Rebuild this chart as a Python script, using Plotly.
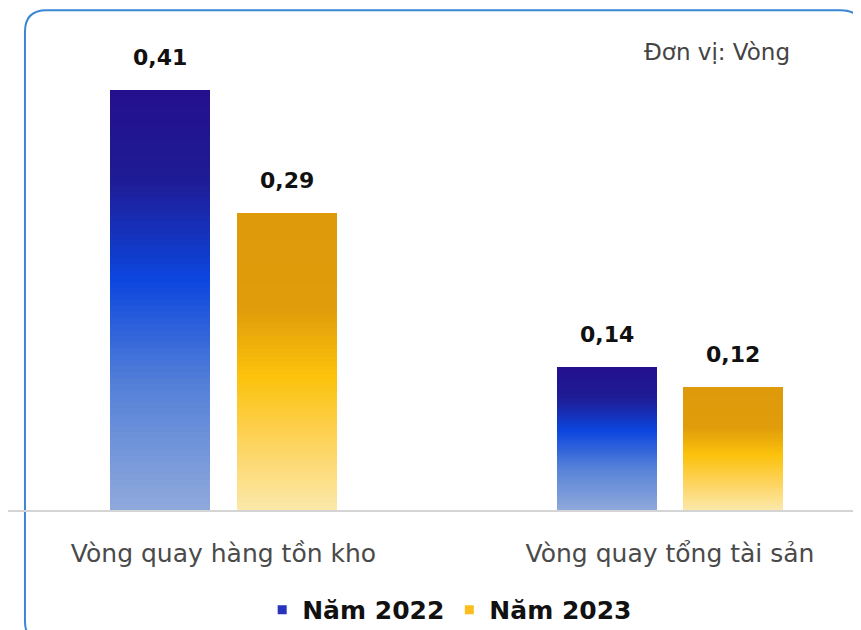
import plotly.graph_objects as go

# data
categories = ["Vòng quay hàng tồn kho", "Vòng quay tổng tài sản"]
series_names = ["Năm 2022", "Năm 2023"]
values_2022 = [0.41, 0.14]
values_2023 = [0.29, 0.12]
value_labels_2022 = ["0,41", "0,14"]
value_labels_2023 = ["0,29", "0,12"]
unit_label = "Đơn vị: Vòng"

FONT = "DejaVu Sans"
N_SEG = 70  # slices per bar, used to fake a vertical gradient

# gradient stops, fraction of bar height from the bottom
blue_stops = [(0.0, (143, 169, 219)), (0.3, (84, 128, 216)), (0.55, (12, 70, 222)),
              (0.78, (30, 28, 150)), (1.0, (36, 16, 142))]
gold_stops = [(0.0, (251, 232, 170)), (0.22, (253, 212, 95)), (0.45, (252, 194, 12)),
              (0.68, (224, 156, 10)), (1.0, (223, 154, 12))]


def lerp_color(stops, t):
    for (t0, c0), (t1, c1) in zip(stops[:-1], stops[1:]):
        if t0 <= t <= t1:
            f = (t - t0) / (t1 - t0) if t1 > t0 else 0
            c = [round(a + (b - a) * f) for a, b in zip(c0, c1)]
            return f"rgb({c[0]},{c[1]},{c[2]})"
    c = stops[-1][1]
    return f"rgb({c[0]},{c[1]},{c[2]})"


BAR_W = 0.224
offsets = [-0.254, 0.030]
series = [(values_2022, blue_stops, value_labels_2022, "rgb(40,50,190)"),
          (values_2023, gold_stops, value_labels_2023, "rgb(250,190,30)")]

fig = go.Figure()
for s, (vals, stops, labels, legend_col) in enumerate(series):
    for i in range(N_SEG):
        t = (i + 0.5) / N_SEG
        fig.add_trace(go.Bar(
            x=categories,
            y=[v / N_SEG * 1.02 for v in vals],
            base=[v * i / N_SEG for v in vals],
            offset=offsets[s],
            width=BAR_W,
            marker=dict(color=lerp_color(stops, t), line=dict(width=0)),
            showlegend=False,
            hoverinfo="skip",
        ))
    # legend entry only (small square symbol)
    fig.add_trace(go.Scatter(
        x=[categories[0]], y=[None], mode="markers", name=f"<b>{series_names[s]}</b>",
        marker=dict(color=legend_col, symbol="square", size=9),
        showlegend=True,
    ))
    for k, v in enumerate(vals):
        fig.add_annotation(
            x=k + offsets[s] + BAR_W / 2, y=v, text=f"<b>{labels[k]}</b>",
            showarrow=False, yanchor="bottom", yshift=18,
            font=dict(family=FONT, size=22, color="#111111"),
        )

fig.add_annotation(
    xref="paper", yref="paper", x=0.910, y=0.931, text=unit_label,
    showarrow=False, xanchor="right", yanchor="middle",
    font=dict(family=FONT, size=23, color="#444444"),
)

# rounded frame (page body adds an 8px offset, so coords are shifted)
x0, x1, y0, y1, r = 0.0197, 0.992, 1.016, -0.27, 0.025
ry = r * 861 / 492
frame = (f"M {x0+r},{y0} L {x1-r},{y0} Q {x1},{y0} {x1},{y0-ry} "
         f"L {x1},{y1+ry} Q {x1},{y1} {x1-r},{y1} L {x0+r},{y1} "
         f"Q {x0},{y1} {x0},{y1+ry} L {x0},{y0-ry} Q {x0},{y0} {x0+r},{y0} Z")
fig.add_shape(type="path", xref="paper", yref="paper", path=frame,
              line=dict(color="#3a86d4", width=2), layer="below")

fig.update_layout(
    width=861, height=630,
    barmode="overlay",
    bargap=0,
    plot_bgcolor="white", paper_bgcolor="white",
    margin=dict(l=0, r=0, t=10, b=128),
    font=dict(family=FONT),
    legend=dict(orientation="h", x=0.513, xanchor="center", y=-0.203, yanchor="middle",
                font=dict(family=FONT, size=25, color="#111111"),
                itemwidth=30, traceorder="normal"),
    showlegend=True,
)
fig.update_xaxes(
    type="category", range=[-0.4826, 1.4457],
    showline=True, linecolor="#d4d4d4", linewidth=1.5,
    showgrid=False, ticks="", ticklabelstandoff=20,
    tickfont=dict(family=FONT, size=25, color="#4a4a4a"),
)
fig.update_yaxes(range=[0, 0.4805], visible=False, showgrid=False, zeroline=False)

fig.write_html("out.html")
